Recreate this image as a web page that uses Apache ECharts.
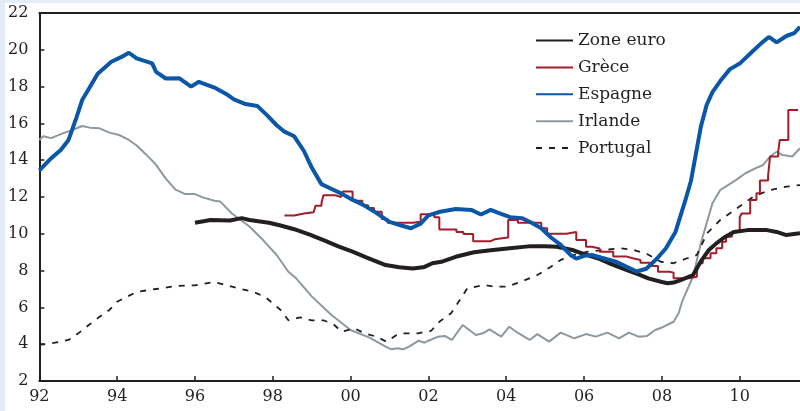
<!DOCTYPE html>
<html>
<head>
<meta charset="utf-8">
<script src="https://cdn.jsdelivr.net/npm/echarts@6/dist/echarts.min.js"></script>
<style>
html,body{margin:0;padding:0;background:#e3edf7;width:800px;height:411px;overflow:hidden;}
#c{position:absolute;left:5px;top:3px;width:795px;height:408px;background:#ffffff;}
</style>
</head>
<body>
<div id="c"></div>
<script>
const seriesNames = ['Zone euro', 'Grèce', 'Espagne', 'Irlande', 'Portugal'];
const yTicks = [2, 22, 2]; // min, max, step
const xRange = [1992, 2011.55, 2];

const zoneEuro = [[1996.0,10.6],[1996.4,10.75],[1996.9,10.72],[1997.2,10.85],[1997.4,10.75],[1997.9,10.6],[1998.2,10.45],[1998.55,10.25],[1998.95,9.95],[1999.35,9.62],[1999.7,9.3],[2000.05,9.03],[2000.4,8.72],[2000.9,8.3],[2001.25,8.18],[2001.6,8.12],[2001.9,8.2],[2002.1,8.4],[2002.33,8.48],[2002.7,8.75],[2003.17,9.0],[2003.6,9.1],[2004.03,9.2],[2004.63,9.33],[2005.0,9.33],[2005.3,9.3],[2005.7,9.12],[2006.0,8.9],[2006.35,8.67],[2006.7,8.35],[2007.1,8.03],[2007.4,7.8],[2007.65,7.58],[2008.0,7.38],[2008.15,7.31],[2008.3,7.35],[2008.5,7.5],[2008.8,7.76],[2009.0,8.5],[2009.2,9.1],[2009.4,9.48],[2009.6,9.8],[2009.85,10.1],[2010.2,10.2],[2010.7,10.2],[2010.95,10.1],[2011.2,9.93],[2011.55,10.03]];

const grece = [[1998.3,11.0],[1998.55,11.1],[1998.8,11.17],[1999.05,11.26],[1999.1,11.53],[1999.25,11.66],[1999.3,12.1],[1999.6,12.0],[1999.75,12.07],[1999.8,12.3],[2000.05,11.8],[2000.3,11.55],[2000.45,11.4],[2000.6,11.2],[2000.8,10.8],[2000.95,10.6],[2001.6,10.65],[2001.8,11.06],[2002.15,10.9],[2002.28,10.24],[2002.72,10.1],[2002.9,9.99],[2003.15,9.6],[2003.6,9.7],[2003.7,9.8],[2004.05,10.75],[2004.3,10.6],[2004.9,10.3],[2005.05,10.0],[2005.55,10.1],[2005.8,9.66],[2006.05,9.3],[2006.2,9.2],[2006.4,9.03],[2006.75,8.76],[2007.1,8.67],[2007.25,8.58],[2007.45,8.43],[2007.7,8.25],[2007.9,7.94],[2008.2,7.89],[2008.3,7.58],[2008.7,7.67],[2008.9,7.94],[2008.95,8.4],[2009.05,8.67],[2009.25,8.94],[2009.4,9.21],[2009.55,9.57],[2009.65,9.84],[2009.8,10.1],[2010.0,10.9],[2010.05,11.1],[2010.27,11.84],[2010.43,12.2],[2010.52,12.9],[2010.73,13.15],[2010.78,14.2],[2010.99,14.46],[2011.03,15.1],[2011.25,16.73],[2011.5,16.73]];

const espagne = [[1992.0,13.45],[1992.3,14.1],[1992.55,14.55],[1992.75,15.1],[1992.95,16.3],[1993.1,17.27],[1993.25,17.8],[1993.5,18.7],[1993.85,19.35],[1994.1,19.6],[1994.3,19.84],[1994.5,19.53],[1994.9,19.26],[1995.0,18.8],[1995.25,18.44],[1995.6,18.45],[1995.65,18.53],[1995.9,18.0],[1996.1,18.26],[1996.5,17.95],[1996.8,17.6],[1997.0,17.3],[1997.3,17.05],[1997.6,16.95],[1997.85,16.45],[1998.1,15.9],[1998.3,15.55],[1998.55,15.3],[1998.8,14.5],[1999.0,13.6],[1999.25,12.7],[1999.5,12.45],[1999.75,12.2],[2000.0,11.9],[2000.3,11.6],[2000.65,11.15],[2001.0,10.65],[2001.3,10.45],[2001.55,10.3],[2001.8,10.55],[2002.0,11.0],[2002.3,11.2],[2002.7,11.35],[2003.1,11.3],[2003.35,11.05],[2003.6,11.3],[2003.85,11.1],[2004.1,10.9],[2004.4,10.85],[2004.65,10.6],[2004.9,10.3],[2005.15,9.8],[2005.4,9.4],[2005.65,8.85],[2005.8,8.65],[2006.0,8.8],[2006.2,8.85],[2006.45,8.7],[2006.8,8.5],[2007.15,8.15],[2007.35,7.95],[2007.6,8.1],[2007.85,8.6],[2008.1,9.2],[2008.35,10.1],[2008.6,11.8],[2008.75,12.9],[2009.0,15.8],[2009.15,17.0],[2009.3,17.7],[2009.5,18.3],[2009.75,18.95],[2010.0,19.25],[2010.3,19.85],[2010.55,20.35],[2010.75,20.7],[2010.95,20.4],[2011.2,20.75],[2011.4,20.9],[2011.55,21.25]];

const irlande = [[1992.0,15.1],[1992.1,15.3],[1992.3,15.2],[1992.6,15.46],[1992.85,15.64],[1993.1,15.86],[1993.3,15.77],[1993.55,15.73],[1993.8,15.5],[1994.05,15.37],[1994.3,15.1],[1994.5,14.8],[1994.75,14.3],[1995.0,13.75],[1995.25,13.0],[1995.5,12.4],[1995.75,12.16],[1996.0,12.16],[1996.2,11.98],[1996.5,11.8],[1996.65,11.75],[1996.95,11.1],[1997.4,10.4],[1997.75,9.66],[1998.1,8.85],[1998.4,7.94],[1998.6,7.58],[1999.0,6.6],[1999.5,5.6],[2000.0,4.77],[2000.5,4.34],[2000.9,3.87],[2001.05,3.72],[2001.2,3.78],[2001.35,3.72],[2001.5,3.87],[2001.75,4.19],[2001.9,4.08],[2002.0,4.19],[2002.25,4.41],[2002.42,4.45],[2002.6,4.23],[2002.88,5.04],[2003.22,4.5],[2003.4,4.59],[2003.57,4.81],[2003.87,4.41],[2004.08,4.95],[2004.25,4.68],[2004.6,4.23],[2004.8,4.55],[2005.1,4.14],[2005.4,4.63],[2005.75,4.32],[2006.05,4.55],[2006.3,4.41],[2006.6,4.63],[2006.9,4.32],[2007.15,4.63],[2007.4,4.41],[2007.62,4.45],[2007.83,4.77],[2008.05,4.95],[2008.3,5.22],[2008.43,5.68],[2008.52,6.31],[2008.65,6.95],[2008.8,7.67],[2009.0,9.48],[2009.15,10.57],[2009.3,11.66],[2009.5,12.38],[2009.7,12.65],[2009.9,12.92],[2010.15,13.29],[2010.4,13.56],[2010.6,13.74],[2010.78,14.2],[2010.95,14.46],[2011.1,14.28],[2011.35,14.2],[2011.55,14.65]];

const portugal = [[1992.0,3.96],[1992.4,4.08],[1992.75,4.23],[1993.0,4.59],[1993.27,5.04],[1993.53,5.46],[1993.8,5.86],[1994.0,6.31],[1994.5,6.84],[1995.0,7.0],[1995.5,7.16],[1996.0,7.2],[1996.5,7.38],[1997.0,7.1],[1997.5,6.84],[1997.8,6.57],[1997.95,6.31],[1998.2,5.86],[1998.4,5.3],[1998.7,5.46],[1999.0,5.3],[1999.3,5.3],[1999.55,5.1],[1999.77,4.68],[2000.1,4.86],[2000.36,4.59],[2000.66,4.41],[2000.92,4.14],[2001.18,4.5],[2001.3,4.59],[2001.73,4.59],[2002.07,4.73],[2002.28,5.22],[2002.58,5.68],[2002.75,6.22],[2003.0,7.04],[2003.44,7.22],[2003.7,7.13],[2004.03,7.13],[2004.38,7.4],[2004.8,7.76],[2005.15,8.21],[2005.4,8.58],[2005.74,8.85],[2006.1,9.03],[2006.5,9.12],[2006.94,9.21],[2007.28,9.12],[2007.62,8.9],[2007.97,8.48],[2008.3,8.4],[2008.65,8.67],[2008.9,8.85],[2009.16,10.03],[2009.5,10.75],[2009.93,11.39],[2010.35,12.02],[2010.78,12.38],[2011.2,12.56],[2011.55,12.65]];

const FONT = 'DejaVu Serif';
const INK = '#231f20';

const chart = echarts.init(document.getElementById('c'), null, {renderer: 'canvas'});

function yearLabel(v) {
  if (Math.abs(v - Math.round(v)) > 1e-6 || Math.round(v) % 2 !== 0) return '';
  return String(Math.round(v) % 100).padStart(2, '0');
}

function lineSeries(name, data, color, width, extra) {
  return Object.assign({
    name: name,
    type: 'line',
    data: data,
    showSymbol: false,
    symbol: 'none',
    smooth: false,
    animation: false,
    clip: true,
    lineStyle: {color: color, width: width},
    itemStyle: {color: color}
  }, extra || {});
}

chart.setOption({
  animation: false,
  grid: {left: 32, top: 10, right: 0, bottom: 30, containLabel: false},
  legend: {
    orient: 'vertical',
    left: 525,
    top: 24,
    itemWidth: 37,
    itemHeight: 14,
    itemGap: 9.9,
    data: seriesNames,
    itemStyle: {color: 'transparent', borderColor: 'transparent', borderWidth: 0, opacity: 0},
    textStyle: {fontFamily: FONT, fontSize: 17, color: INK}
  },
  xAxis: [{
    type: 'value',
    min: xRange[0],
    max: xRange[1],
    interval: xRange[2],
    axisLine: {show: true, lineStyle: {color: INK, width: 2}},
    axisTick: {show: true, inside: true, length: 5, lineStyle: {color: INK, width: 1.5}},
    axisLabel: {show: true, margin: 8, showMaxLabel: false, formatter: yearLabel, fontFamily: FONT, fontSize: 16, color: INK},
    splitLine: {show: false}
  }, {
    type: 'value',
    position: 'top',
    min: xRange[0],
    max: xRange[1],
    interval: xRange[2],
    axisLine: {show: true, lineStyle: {color: INK, width: 2}},
    axisTick: {show: false},
    axisLabel: {show: false},
    splitLine: {show: false}
  }],
  yAxis: {
    type: 'value',
    min: yTicks[0],
    max: yTicks[1],
    interval: yTicks[2],
    axisLine: {show: true, lineStyle: {color: INK, width: 2}},
    axisTick: {show: true, inside: true, length: 5, lineStyle: {color: INK, width: 1.5}},
    axisLabel: {margin: 11, fontFamily: FONT, fontSize: 16, color: INK},
    splitLine: {show: false}
  },
  series: [
    lineSeries(seriesNames[0], zoneEuro, '#231f20', 4, {z: 4}),
    lineSeries(seriesNames[1], grece, '#a11d27', 2, {step: 'end', z: 3}),
    lineSeries(seriesNames[2], espagne, '#0a57a8', 4, {z: 5}),
    lineSeries(seriesNames[3], irlande, '#8d989f', 2, {z: 2}),
    lineSeries(seriesNames[4], portugal, '#231f20', 1.8, {z: 2, lineStyle: {color: '#231f20', width: 1.8, type: [6, 7]}})
  ]
});
</script>
</body>
</html>
